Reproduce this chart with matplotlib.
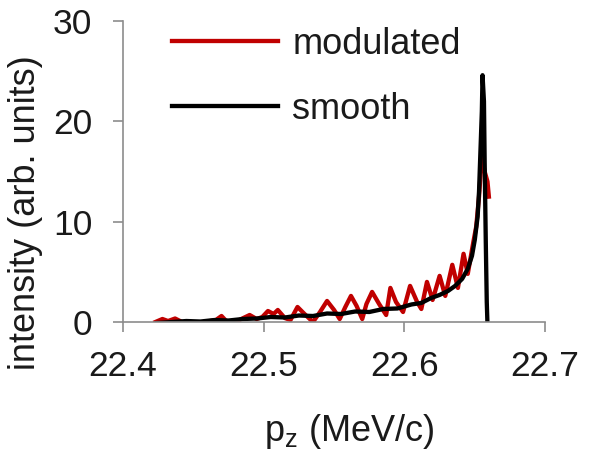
import matplotlib
matplotlib.use("Agg")
import matplotlib.pyplot as plt

plt.rcParams['font.family'] = ['Liberation Sans', 'DejaVu Sans']

# modulated spectrum (red)
mod_pz = [22.423, 22.428, 22.432, 22.437, 22.442, 22.447, 22.452, 22.458, 22.466, 22.470,
          22.474, 22.479, 22.484, 22.490, 22.495, 22.499, 22.503, 22.507, 22.510, 22.515,
          22.519, 22.524, 22.529, 22.535, 22.540, 22.545, 22.550, 22.554, 22.558, 22.562,
          22.566, 22.570, 22.573, 22.577, 22.582, 22.587, 22.590, 22.594, 22.599, 22.604,
          22.609, 22.612, 22.616, 22.620, 22.625, 22.629, 22.634, 22.638, 22.642, 22.645,
          22.649, 22.651, 22.653, 22.655, 22.657, 22.659, 22.660]
mod_int = [0.0, 0.3, 0.1, 0.35, 0.0, -0.2, -0.2, 0.0, 0.2, 0.6,
           0.0, -0.1, 0.3, 0.7, 0.3, 0.5, 1.1, 0.8, 1.2, 0.4,
           0.2, 1.5, 0.8, 0.0, 1.0, 2.1, 1.2, 0.3, 1.5, 2.6,
           1.6, 0.3, 1.8, 3.0, 1.8, 0.7, 3.4, 2.0, 1.0, 3.6,
           2.0, 1.3, 4.0, 2.2, 4.6, 2.6, 5.7, 3.4, 6.8, 4.8,
           8.0, 9.5, 12.5, 16.5, 15.0, 14.0, 12.5]

# smooth spectrum (black)
smooth_pz = [22.424, 22.435, 22.445, 22.455, 22.465, 22.475, 22.485, 22.495, 22.505, 22.515,
             22.525, 22.535, 22.545, 22.555, 22.565, 22.575, 22.585, 22.595, 22.605, 22.612,
             22.619, 22.625, 22.631, 22.636, 22.641, 22.645, 22.648, 22.650, 22.652, 22.653,
             22.654, 22.655, 22.6555, 22.6565, 22.657, 22.6578, 22.6585, 22.659]
smooth_int = [-0.1, 0.0, 0.1, 0.05, 0.2, 0.15, 0.3, 0.35, 0.5, 0.45,
              0.65, 0.6, 0.85, 0.8, 1.05, 1.0, 1.3, 1.35, 1.75, 1.9,
              2.4, 2.7, 3.1, 3.6, 4.3, 5.3, 6.6, 8.2, 10.5, 13.0,
              17.0, 21.0, 24.6, 22.0, 16.0, 8.0, 2.0, -0.2]

x_ticks = [22.4, 22.5, 22.6, 22.7]
y_ticks = [0, 10, 20, 30]

fig = plt.figure(figsize=(5.9, 4.54), dpi=100)
ax = fig.add_axes([0.2085, 0.2907, 0.7155, 0.663])

ax.plot(mod_pz, mod_int, color='#c00000', lw=3.1, label='modulated', solid_joinstyle='round')
ax.plot(smooth_pz, smooth_int, color='black', lw=3.1, label='smooth', solid_joinstyle='round')

ax.set_xlim(22.4, 22.7)
ax.set_ylim(0, 30)
ax.set_xticks(x_ticks)
ax.set_xticklabels([f'{v:.1f}' for v in x_ticks])
ax.set_yticks(y_ticks)

for s in ['top', 'right']:
    ax.spines[s].set_visible(False)
for s in ['left', 'bottom']:
    ax.spines[s].set_color('#8c8c8c')
    ax.spines[s].set_linewidth(1.2)
    ax.spines[s].set_clip_on(False)

ax.tick_params(direction='out', length=7, width=1.2, color='#8c8c8c',
               labelsize=25.5, labelcolor='#1a1a1a')
ax.tick_params(axis='x', pad=13)
ax.tick_params(axis='y', pad=15)

ax.set_ylabel('intensity (arb. units)', fontsize=26, color='#1a1a1a')
ax.yaxis.set_label_coords(-0.19, 0.365)
ax.set_xlabel('p$_\\mathregular{z}$ (MeV/c)', fontsize=26, color='#1a1a1a')
ax.xaxis.set_label_coords(0.535, -0.30)

ax.legend(loc='upper left', bbox_to_anchor=(0.116, 0.98), frameon=False,
          fontsize=26, handlelength=2.94, handletextpad=0.39, labelspacing=0.83,
          borderpad=0, borderaxespad=0, labelcolor='#1a1a1a')

fig.savefig('out.png', dpi=100)
